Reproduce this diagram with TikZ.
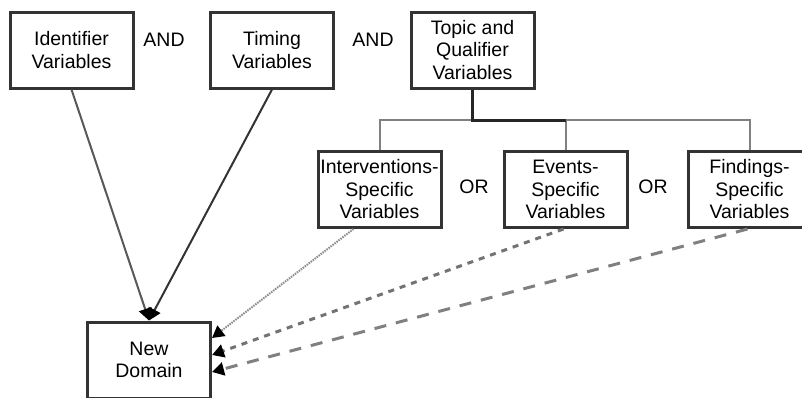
\documentclass[tikz,border=0pt]{standalone}
\usepackage{fontspec}
\setmainfont{Liberation Sans}
\usetikzlibrary{arrows.meta,calc}
\definecolor{boxline}{HTML}{333333}
\definecolor{greyline}{HTML}{808080}
\tikzset{
  varbox/.style={draw=boxline, line width=3pt, minimum width=123pt, minimum height=76pt,
    inner sep=2pt, align=center, font=\fontsize{19.5}{22.5}\selectfont, text=black},
  conn/.style={font=\fontsize{19.5}{22.5}\selectfont, text=black},
  tip/.style={-{Triangle[length=12pt,width=13pt,color=black]}},
  treeline/.style={draw=greyline, line width=2pt},
  treemain/.style={draw=black!85, line width=3pt}
}
\begin{document}
\begin{tikzpicture}[x=1pt,y=-1pt]
\clip (0,0) rectangle (802,397);
\fill[white] (0,0) rectangle (802,397);
\node[varbox] (ident) at (71.5,50) {Identifier\\Variables};
\node[varbox] (timing) at (272,50) {Timing\\Variables};
\node[varbox] (topic) at (472.5,50) {Topic and\\Qualifier\\Variables};
\node[varbox] (interv) at (379.5,189.5) {Interventions-\\Specific\\Variables};
\node[varbox] (events) at (565.5,189.5) {Events-\\Specific\\Variables};
\node[varbox] (find) at (749.5,189.5) {Findings-\\Specific\\Variables};
\node[varbox] (nd) at (149,360) {New\\Domain};
\node[conn] (and1) at (164,40) {AND};
\node[conn] (and2) at (373,40) {AND};
\node[conn] (or1) at (474,187) {OR};
\node[conn] (or2) at (653,187) {OR};
% tree
\coordinate (hub) at (topic.south |- 0,120);
\coordinate (li) at (interv.north |- 0,120);
\coordinate (le) at (events.north |- 0,120);
\coordinate (lf) at (find.north |- 0,120);
\draw[treeline] (interv.north) -- (li) -- (lf) -- (find.north);
\draw[treeline] (le) -- (events.north);
\draw[treemain] (topic.south) -- (hub) -- (le);
% arrows
\draw[tip, draw=black!65, line width=2pt] (ident.south) -- (nd.north);
\draw[tip, draw=black!80, line width=2pt] (timing.south) -- (nd.north);
\draw[tip, draw=black!45, line width=2pt, dash pattern=on 1.5pt off 1pt] ($(interv.south)+(-26,0)$) -- ($(nd.east)+(0,-22)$);
\draw[tip, draw=black!55, line width=3pt, dash pattern=on 6pt off 6pt] ($(events.south)+(-2,0)$) -- ($(nd.east)+(0,-5)$);
\draw[tip, draw=black!50, line width=3pt, dash pattern=on 12pt off 10pt] ($(find.south)+(-2,0)$) -- ($(nd.east)+(0,12)$);
\end{tikzpicture}
\end{document}
